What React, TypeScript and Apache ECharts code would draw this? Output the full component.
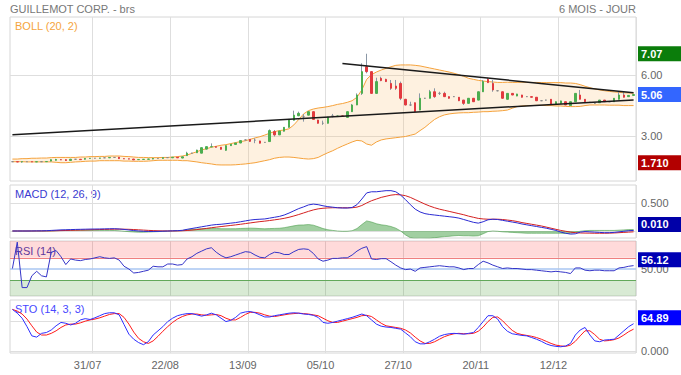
import { useEffect, useRef } from 'react';
import * as echarts from 'echarts';

// ---------- DATA ----------
// candles: [open, close, low, high]
const candles: number[][] = [
  [1.76,1.76,1.75,1.77],[1.76,1.75,1.74,1.77],[1.75,1.76,1.71,1.77],[1.76,1.76,1.75,1.77],[1.76,1.75,1.74,1.76],
  [1.75,1.76,1.75,1.77],[1.76,1.76,1.75,1.77],[1.76,1.77,1.75,1.78],[1.79,1.86,1.78,1.87],[1.83,1.87,1.82,1.90],
  [1.86,1.85,1.84,1.89],[1.86,1.82,1.80,1.87],[1.82,1.88,1.81,1.90],[1.88,1.88,1.86,1.89],[1.88,1.86,1.85,1.89],
  [1.88,1.92,1.87,1.93],[1.92,1.93,1.91,1.94],[1.93,1.93,1.92,1.94],[1.93,1.94,1.92,1.95],[1.95,1.95,1.94,1.96],
  [1.95,1.97,1.94,1.98],[1.97,1.97,1.96,1.98],[1.98,1.91,1.90,1.99],[1.91,1.90,1.89,1.92],[1.90,1.89,1.88,1.91],
  [1.89,1.85,1.84,1.90],[1.86,1.87,1.85,1.88],[1.87,1.88,1.86,1.89],[1.88,1.89,1.87,1.90],[1.89,1.92,1.88,1.93],
  [1.92,1.92,1.90,1.93],[1.92,1.96,1.91,1.97],[1.96,1.96,1.95,1.97],[1.95,1.98,1.94,1.99],[1.98,1.95,1.94,1.99],
  [1.94,2.00,1.93,2.01],[2.06,2.18,2.04,2.25],[2.18,2.18,2.16,2.20],[2.20,2.33,2.19,2.35],[2.18,2.45,2.17,2.46],
  [2.38,2.50,2.36,2.51],[2.49,2.50,2.47,2.66],[2.50,2.47,2.46,2.52],[2.47,2.37,2.36,2.48],[2.32,2.55,2.30,2.56],
  [2.55,2.62,2.54,2.63],[2.61,2.68,2.60,2.69],[2.68,2.80,2.67,2.81],[2.83,2.83,2.81,2.85],[2.86,2.76,2.74,2.87],
  [2.82,2.82,2.67,2.91],[2.78,2.67,2.66,2.79],[2.71,2.71,2.70,2.73],[2.75,3.29,2.74,3.35],[3.24,3.08,3.00,3.32],
  [3.08,3.27,3.07,3.28],[3.26,3.45,3.25,3.46],[3.45,3.84,3.44,3.85],[3.80,4.05,3.79,4.27],[4.02,4.14,4.00,4.22],
  [3.97,3.97,3.73,4.11],[4.05,4.22,4.04,4.23],[4.22,3.84,3.83,4.23],[3.81,3.65,3.64,3.82],[3.65,3.65,3.57,3.78],
  [3.65,3.95,3.64,3.97],[4.01,4.01,3.94,4.11],[3.98,4.01,3.97,4.03],[4.01,4.00,3.98,4.03],[3.94,4.22,3.93,4.23],
  [4.22,4.55,4.21,4.60],[4.55,5.04,4.54,5.12],[5.12,6.19,5.04,6.60],[6.43,6.19,6.11,7.07],[6.19,5.12,5.10,6.20],
  [5.12,5.70,5.10,5.89],[5.86,5.75,5.72,5.94],[5.81,5.70,5.68,5.84],[5.61,5.37,5.29,5.78],[5.48,5.37,5.29,5.78],
  [5.61,4.88,4.79,5.70],[4.83,4.55,4.53,4.85],[4.55,4.55,4.50,4.71],[4.66,4.22,4.20,4.67],[4.30,4.88,4.29,5.12],
  [4.88,4.88,4.85,4.90],[4.88,5.20,4.87,5.29],[5.20,4.96,4.90,5.37],[5.12,5.12,5.04,5.20],[5.12,4.96,4.94,5.20],
  [4.96,4.88,4.86,4.97],[4.96,4.96,4.94,4.98],[4.93,4.76,4.74,4.94],[4.79,4.63,4.55,4.80],[4.63,4.88,4.62,4.89],
  [4.88,4.71,4.70,4.89],[4.79,5.20,4.78,5.21],[5.20,5.70,5.19,5.78],[5.81,5.65,5.63,5.89],[5.61,5.29,5.20,5.78],
  [5.25,5.25,5.22,5.27],[5.20,4.88,4.86,5.21],[4.83,5.12,4.82,5.13],[5.12,5.04,5.03,5.13],[4.99,5.09,4.98,5.10],
  [5.04,4.93,4.92,5.05],[4.96,4.96,4.94,4.98],[4.96,4.93,4.92,4.97],[4.93,4.76,4.74,4.94],[4.76,4.76,4.74,4.78],
  [4.79,4.79,4.77,4.81],[4.83,4.60,4.59,4.84],[4.60,4.71,4.59,4.72],[4.63,4.75,4.62,4.76],[4.71,4.55,4.54,4.72],
  [4.52,4.71,4.51,4.72],[4.71,5.12,4.70,5.13],[5.04,4.83,4.82,5.29],[4.83,4.71,4.70,4.84],[4.68,4.68,4.66,4.70],
  [4.63,4.63,4.61,4.65],[4.66,4.79,4.65,4.80],[4.79,4.71,4.70,4.80],[4.71,4.71,4.69,4.73],[4.71,4.88,4.70,4.89],
  [4.83,5.04,4.82,5.20],[5.04,4.93,4.92,5.20],[4.96,5.02,4.95,5.04],[5.02,5.06,5.00,5.08],
];

const bollUpper: number[] = [
  1.89,1.89,1.91,1.91,1.93,1.93,1.94,1.94,1.96,1.97,
  1.97,1.97,1.97,1.97,1.99,1.99,2.01,2.01,2.02,2.02,
  2.04,2.04,2.04,2.02,2.01,1.99,1.97,1.97,1.96,1.96,
  1.96,1.97,1.97,1.99,2.01,2.04,2.09,2.17,2.25,2.34,
  2.40,2.47,2.52,2.57,2.60,2.65,2.70,2.75,2.79,2.86,
  2.93,2.99,3.07,3.16,3.24,3.29,3.32,3.38,3.57,3.84,
  4.11,4.27,4.35,4.40,4.43,4.47,4.52,4.58,4.62,4.68,
  4.76,4.93,5.29,5.81,6.04,6.17,6.27,6.35,6.43,6.50,
  6.52,6.52,6.52,6.50,6.47,6.42,6.37,6.32,6.27,6.22,
  6.17,6.11,6.04,5.96,5.86,5.81,5.76,5.73,5.70,5.68,
  5.66,5.66,5.67,5.66,5.66,5.67,5.66,5.66,5.66,5.65,
  5.65,5.65,5.65,5.65,5.63,5.63,5.61,5.55,5.47,5.40,
  5.34,5.29,5.25,5.22,5.19,5.17,5.15,5.14,5.13,
];
const bollLower: number[] = [
  1.76,1.76,1.76,1.75,1.75,1.75,1.75,1.75,1.75,1.73,
  1.71,1.71,1.73,1.75,1.76,1.78,1.79,1.79,1.81,1.81,
  1.81,1.81,1.81,1.79,1.79,1.78,1.78,1.78,1.79,1.81,
  1.83,1.83,1.83,1.83,1.83,1.81,1.81,1.78,1.75,1.71,
  1.68,1.65,1.61,1.60,1.60,1.60,1.61,1.63,1.65,1.68,
  1.71,1.76,1.81,1.86,1.93,1.97,1.99,1.99,1.97,1.94,
  1.91,1.89,1.91,1.97,2.09,2.20,2.30,2.42,2.53,2.63,
  2.73,2.81,2.78,2.63,2.57,2.73,2.83,2.88,2.91,2.94,
  2.97,3.00,3.06,3.12,3.29,3.45,3.65,3.84,3.97,4.06,
  4.11,4.14,4.16,4.17,4.17,4.19,4.20,4.22,4.22,4.24,
  4.25,4.27,4.30,4.39,4.47,4.50,4.52,4.52,4.53,4.53,
  4.52,4.52,4.50,4.50,4.48,4.47,4.47,4.48,4.52,4.55,
  4.55,4.55,4.55,4.54,4.54,4.54,4.52,4.52,4.52,
];

const macdLine: number[] = [
  0,0,0,0,0.001,0.002,0.003,0.005,0.010,0.015,
  0.020,0.022,0.025,0.028,0.030,0.032,0.034,0.035,0.036,0.038,
  0.040,0.041,0.036,0.028,0.018,0.008,0.000,-0.005,-0.008,-0.008,
  -0.007,-0.004,-0.001,0.003,0.006,0.012,0.030,0.045,0.060,0.075,
  0.090,0.105,0.115,0.120,0.130,0.140,0.150,0.165,0.180,0.195,
  0.205,0.210,0.215,0.230,0.245,0.260,0.285,0.320,0.360,0.400,
  0.430,0.465,0.480,0.470,0.450,0.435,0.425,0.415,0.410,0.410,
  0.420,0.470,0.570,0.680,0.700,0.700,0.710,0.720,0.720,0.700,
  0.640,0.560,0.470,0.390,0.340,0.310,0.295,0.285,0.275,0.265,
  0.255,0.245,0.230,0.205,0.180,0.155,0.140,0.165,0.200,0.210,
  0.205,0.190,0.175,0.160,0.145,0.125,0.110,0.095,0.080,0.065,
  0.050,0.030,0.010,-0.020,-0.040,-0.055,-0.050,-0.020,-0.010,-0.015,
  -0.020,-0.025,-0.030,-0.030,-0.025,-0.015,-0.005,0.005,0.010,
];
const macdSignal: number[] = [
  0,0,0,0,0,0.001,0.001,0.002,0.003,0.005,
  0.007,0.009,0.012,0.014,0.017,0.019,0.022,0.024,0.026,0.028,
  0.030,0.032,0.033,0.032,0.030,0.026,0.021,0.016,0.011,0.007,
  0.004,0.002,0.001,0.001,0.002,0.004,0.009,0.016,0.025,0.035,
  0.046,0.058,0.069,0.079,0.089,0.099,0.109,0.120,0.132,0.144,
  0.156,0.167,0.176,0.187,0.199,0.211,0.226,0.245,0.268,0.294,
  0.322,0.350,0.376,0.395,0.406,0.412,0.415,0.415,0.415,0.414,
  0.415,0.426,0.455,0.500,0.540,0.570,0.600,0.620,0.640,0.650,
  0.645,0.630,0.600,0.560,0.520,0.480,0.445,0.415,0.390,0.370,
  0.350,0.330,0.310,0.290,0.265,0.245,0.225,0.215,0.210,0.210,
  0.210,0.205,0.195,0.185,0.170,0.150,0.135,0.120,0.105,0.090,
  0.070,0.050,0.030,0.010,-0.005,-0.020,-0.030,-0.035,-0.037,-0.038,
  -0.040,-0.040,-0.040,-0.038,-0.035,-0.030,-0.025,-0.020,-0.015,
];
const macdHist: number[] = [
  0,0,0,0,0,0,0,0,0,0.005,
  0.010,0.012,0.013,0.014,0.013,0.013,0.012,0.011,0.010,0.010,
  0.010,0.009,0.003,-0.004,-0.012,-0.018,-0.021,-0.021,-0.019,-0.015,
  -0.011,-0.006,-0.002,0.002,0.004,0.008,0.021,0.029,0.035,0.040,
  0.044,0.047,0.046,0.041,0.041,0.041,0.041,0.045,0.048,0.051,
  0.049,0.043,0.039,0.043,0.046,0.049,0.059,0.075,0.092,0.106,
  0.108,0.115,0.104,0.075,0.044,0.023,0.010,0.000,-0.005,-0.004,
  0.005,0.044,0.115,0.180,0.160,0.130,0.110,0.100,0.080,0.050,
  0.000,-0.070,-0.120,-0.140,-0.150,-0.145,-0.135,-0.120,-0.110,-0.100,
  -0.095,-0.085,-0.080,-0.085,-0.085,-0.090,-0.085,-0.050,-0.010,0.000,
  -0.005,-0.015,-0.020,-0.025,-0.030,-0.035,-0.040,-0.040,-0.040,-0.040,
  -0.040,-0.040,-0.040,-0.040,-0.045,-0.040,-0.025,-0.005,0.005,0.010,
  0.010,0.010,0.010,0.010,0.010,0.015,0.020,0.025,0.025,
];

const rsiLine: number[] = [
  51,98,17,17,38,46,38,36,80,83,
  72,58,68,66,65,67,68,70,72,70,
  69,70,66,55,50,43,44,46,48,55,
  54,54,59,59,57,58,68,72,78,82,
  86,88,80,74,70,72,75,78,81,80,
  75,71,70,76,80,79,76,76,81,85,
  86,85,78,68,64,66,69,69,70,70,
  75,82,87,90,68,67,68.5,68.5,63,57,
  52,49,50,46,52,53,54,55,56,55,
  54,54,52,49,51,51,58,64,61,57,
  54,51,52,51,51,50,49,49,48,47,
  46,45,46,45,44,42,52,52,48,47,
  48,48,47,47,47,52,53,55,56.12,
];

const stoK: number[] = [
  99,90,78,58,36,33,42,44,50,60,
  68,66,62,66,74,77,75,79,84,89,
  91,91,86,63,40,28,20,15,22,38,
  48,58,70,78,84,87,89,89,86,83,
  86,90,86,78,70,73,80,90,93,94,
  91,86,81,81,84,86,88,90,91,90,
  88,87,85,80,68,66,68,71,74,77,
  80,84,88,84,74,64,59,57,56,54,
  52,43,34,22,17,17,22,28,35,39,
  41,42,41,40,42,44,56,70,84,84,
  76,58,47,41,39,37,36,32,28,23,
  17,13,11,10,12,18,38,50,56,38,
  24,22,26,27,28,38,48,58,64.89,
];
const stoD: number[] = [
  99,95,88,76,60,45,38,38,42,48,
  56,62,64,64,67,71,74,76,79,83,
  87,89,89,80,64,45,30,22,18,24,
  35,47,58,68,76,82,86,88,88,86,
  85,86,87,84,78,74,74,80,87,92,
  92,90,86,83,82,84,86,88,89,90,
  89,88,86,84,78,72,68,68,71,74,
  77,80,84,85,82,74,66,60,58,56,
  54,50,43,33,24,18,18,22,28,34,
  38,41,42,41,41,42,47,57,70,80,
  81,72,60,49,42,39,37,35,32,28,
  23,18,14,12,11,14,23,36,48,48,
  39,28,24,25,27,31,38,46,52,
];

const xTickIndex = [16, 32, 48, 64, 80, 96, 112];
const xTickLabels = ['31/07', '22/08', '13/09', '05/10', '27/10', '20/11', '12/12'];

const priceTicks = [3, 6];
const macdTicks = [0, 0.5];
const macdTickLabels = [0.5];
const rsiTickLabels = [50];
const rsiLevels = [70, 50, 30];
const stoTicks = [0, 70];
const stoTickLabels = [0];

// trend lines: [index, price]
const lowerTrend: [number, number][] = [[0, 3.08], [128, 4.80]];
const upperTrend: [number, number][] = [[68, 6.59], [128, 5.15]];

// ---------- OPTION ----------
const FONT = '"Liberation Sans", Arial, Helvetica, sans-serif';
const GRID_LINE = '#dedede';
const categories = candles.map((_, i) => String(i));
const last = (a: number[]) => a[a.length - 1];

function valueBox(value: number, text: string, bg: string, dy: number, z: number) {
  return {
    silent: true,
    symbol: ['none', 'none'],
    animation: false,
    z,
    lineStyle: { width: 0, color: bg, opacity: 0 },
    label: {
      show: true,
      position: 'end',
      distance: 2,
      formatter: text,
      color: '#fff',
      opacity: 1,
      fontSize: 11,
      fontWeight: 'bold',
      fontFamily: FONT,
      backgroundColor: bg,
      padding: [2, 24, 1, 3],
      lineHeight: 12,
      offset: [0, dy],
    },
    data: [{ yAxis: value }],
  };
}

// a plain coloured strip under an oscillator box (signal line value), no text
function signalStrip(value: number, bg: string, dy: number, z: number) {
  return {
    silent: true,
    symbol: ['none', 'none'],
    animation: false,
    z,
    lineStyle: { width: 0, color: bg, opacity: 0 },
    label: {
      show: true,
      position: 'end',
      distance: 2,
      formatter: ' ',
      width: 60,
      height: 12,
      lineHeight: 12,
      fontSize: 11,
      backgroundColor: bg,
      padding: [2, 0, 1, 0],
      offset: [0, dy],
    },
    data: [{ yAxis: value }],
  };
}

function buildOption() {
  const highs = candles.map((c) => c[3]);
  const lows = candles.map((c) => c[2]);
  const hi = Math.max(...highs);
  const lo = Math.min(...lows);
  const lastClose = last(candles)[1];

  const grids = [
    { top: 17, height: 164 },
    { top: 185, height: 53 },
    { top: 241, height: 55 },
    { top: 300, height: 53 },
  ].map((g) => ({
    ...g,
    left: 10,
    right: 45,
    show: true,
    borderColor: '#d6d6d6',
    borderWidth: 1,
    backgroundColor: 'transparent',
  }));

  const xAxes = grids.map((_, gi) => ({
    type: 'category',
    gridIndex: gi,
    data: categories,
    boundaryGap: true,
    axisLine: { show: false },
    axisTick: { show: false },
    axisLabel: {
      show: gi === 3,
      interval: (idx: number) => xTickIndex.includes(idx),
      formatter: (_v: string, idx: number) => {
        const k = xTickIndex.indexOf(idx);
        return k >= 0 ? xTickLabels[k] : '';
      },
      color: '#666',
      fontSize: 11,
      fontFamily: FONT,
      margin: 6,
      padding: [0, 5, 0, 0],
    },
    splitLine: {
      show: true,
      interval: (idx: number) => xTickIndex.includes(idx - 1),
      lineStyle: { color: GRID_LINE, width: 1 },
    },
  }));

  const yAxis = (gi: number, min: number, max: number, ticks: number[], labels: number[], digits: number, split: boolean) => ({
    type: 'value',
    gridIndex: gi,
    position: 'right',
    min,
    max,
    axisLine: { show: false },
    axisTick: { show: false, customValues: ticks },
    axisLabel: {
      customValues: labels,
      formatter: (v: number) => v.toFixed(digits),
      color: '#666',
      fontSize: 11,
      fontFamily: FONT,
      margin: 5,
    },
    splitLine: { show: split, lineStyle: { color: GRID_LINE, width: 1 } },
  });

  const yAxes = [
    yAxis(0, 0.811, 8.877, priceTicks, priceTicks, 2, true),
    yAxis(1, -0.125, 0.821, macdTicks, macdTickLabels, 3, true),
    yAxis(2, 2, 100, rsiTickLabels, rsiTickLabels, 2, false),
    yAxis(3, -4.8, 121.4, stoTicks, stoTickLabels, 3, true),
  ];

  const orange = '#f5a23c';
  const series: any[] = [
    {
      type: 'line', xAxisIndex: 0, yAxisIndex: 0, data: bollLower, stack: 'boll',
      symbol: 'none', lineStyle: { color: orange, width: 1 }, z: 1, silent: true,
    },
    {
      type: 'line', xAxisIndex: 0, yAxisIndex: 0,
      data: bollUpper.map((u, i) => +(u - bollLower[i]).toFixed(4)), stack: 'boll',
      symbol: 'none', lineStyle: { color: orange, width: 1 },
      areaStyle: { color: 'rgba(250,190,110,0.3)' }, z: 1, silent: true,
    },
    {
      // wicks
      type: 'candlestick', xAxisIndex: 0, yAxisIndex: 0, data: candles, barWidth: 0.01, silent: true,
      itemStyle: {
        color: '#8a97a6', color0: '#8a97a6', borderColor: '#8a97a6', borderColor0: '#8a97a6',
        borderColorDoji: '#8a97a6', borderWidth: 1,
      },
      markLine: {
        silent: true, symbol: ['none', 'none'], animation: false, z: 6,
        lineStyle: { color: '#1a1a1a', width: 1.5, type: 'solid' },
        label: { show: false },
        data: [
          [{ coord: [String(lowerTrend[0][0]), lowerTrend[0][1]] }, { coord: [String(lowerTrend[1][0]), lowerTrend[1][1]] }],
          [{ coord: [String(upperTrend[0][0]), upperTrend[0][1]] }, { coord: [String(upperTrend[1][0]), upperTrend[1][1]] }],
        ],
      },
    },
    {
      // bodies
      type: 'candlestick', xAxisIndex: 0, yAxisIndex: 0, silent: true,
      data: candles.map(([o, c]) => [o, c, Math.min(o, c), Math.max(o, c)]),
      barWidth: 2,
      itemStyle: {
        color: '#4cae50', color0: '#e23a3f', borderColor: '#4cae50', borderColor0: '#e23a3f',
        borderColorDoji: '#8a8a8a', borderWidth: 1,
      },
    },
    {
      type: 'line', xAxisIndex: 0, yAxisIndex: 0, data: [], silent: true,
      markLine: valueBox(hi, hi.toFixed(2), '#0b7d0b', 0, 7),
    },
    {
      type: 'line', xAxisIndex: 0, yAxisIndex: 0, data: [], silent: true,
      markLine: valueBox(lastClose, lastClose.toFixed(2), '#3366ff', 0, 7),
    },
    {
      type: 'line', xAxisIndex: 0, yAxisIndex: 0, data: [], silent: true,
      markLine: valueBox(lo, lo.toFixed(3), '#b30000', 0, 7),
    },
    // MACD
    {
      type: 'line', xAxisIndex: 1, yAxisIndex: 1, data: macdHist, symbol: 'none', silent: true,
      lineStyle: { color: '#4f9f4f', width: 0.6 }, areaStyle: { color: 'rgba(70,160,70,0.72)' }, z: 1,
    },
    {
      type: 'line', xAxisIndex: 1, yAxisIndex: 1, data: macdSignal, symbol: 'none', silent: true,
      lineStyle: { color: '#d42020', width: 1 },
      markLine: signalStrip(last(macdSignal), '#cc0000', -4.5, 6),
    },
    {
      type: 'line', xAxisIndex: 1, yAxisIndex: 1, data: macdLine, symbol: 'none', silent: true,
      lineStyle: { color: '#2a2ad2', width: 1 },
      markLine: valueBox(last(macdLine), last(macdLine).toFixed(3), '#0000a8', -6, 7),
    },
    // RSI
    {
      type: 'line', xAxisIndex: 2, yAxisIndex: 2, data: rsiLine, symbol: 'none', silent: true,
      lineStyle: { color: '#3535c8', width: 1 }, z: 3,
      markArea: {
        silent: true,
        data: [
          [{ yAxis: rsiLevels[0], itemStyle: { color: 'rgba(255,0,0,0.145)' } }, { yAxis: 100 }],
          [{ yAxis: 2, itemStyle: { color: 'rgba(60,150,40,0.2)' } }, { yAxis: rsiLevels[2] }],
        ],
      },
      markLine: {
        silent: true, symbol: ['none', 'none'], animation: false, z: 2,
        label: { show: false },
        data: [
          { yAxis: rsiLevels[0], lineStyle: { color: '#ef8080', width: 1, type: 'solid' } },
          { yAxis: rsiLevels[1], lineStyle: { color: '#a9c6f2', width: 1.5, type: 'solid' } },
          { yAxis: rsiLevels[2], lineStyle: { color: '#62a85a', width: 1, type: 'solid' } },
        ],
      },
    },
    {
      type: 'line', xAxisIndex: 2, yAxisIndex: 2, data: [], silent: true,
      markLine: valueBox(last(rsiLine), last(rsiLine).toFixed(2), '#0000b4', -6, 7),
    },
    // STO
    {
      type: 'line', xAxisIndex: 3, yAxisIndex: 3, data: stoD, symbol: 'none', silent: true,
      lineStyle: { color: '#ff1a1a', width: 1 },
      markLine: signalStrip(last(stoD), '#ff0000', -6, 6),
    },
    {
      type: 'line', xAxisIndex: 3, yAxisIndex: 3, data: stoK, symbol: 'none', silent: true,
      lineStyle: { color: '#2f2fff', width: 1 },
      markLine: valueBox(last(stoK), last(stoK).toFixed(2), '#0000ff', -6, 7),
    },
  ];

  const legendText = (text: string, x: number, y: number, fill: string) => ({
    type: 'text', x, y, z: 0, silent: true,
    style: { text, fill, font: `11px ${FONT}`, verticalAlign: 'middle', textVerticalAlign: 'middle' },
  });

  return {
    animation: false,
    backgroundColor: '#ffffff',
    textStyle: { fontFamily: FONT },
    grid: grids,
    xAxis: xAxes,
    yAxis: yAxes,
    series,
    graphic: [
      legendText('GUILLEMOT CORP. - brs', 10, 9, '#777777'),
      {
        type: 'text', x: 636, y: 9, silent: true,
        style: { text: '6 MOIS - JOUR', fill: '#777777', font: `11px ${FONT}`, align: 'right', textAlign: 'right', verticalAlign: 'middle', textVerticalAlign: 'middle' },
      },
      legendText('BOLL (20, 2)', 15, 26, '#f5a43c'),
      legendText('MACD (12, 26, 9)', 15, 194, '#3a3ad0'),
      legendText('RSI (14)', 15, 251, '#4545b8'),
      legendText('STO (14, 3, 3)', 15, 309, '#4848ff'),
    ],
  };
}

export default function App() {
  const ref = useRef<HTMLDivElement>(null);
  useEffect(() => {
    if (!ref.current) return;
    const chart = echarts.init(ref.current, undefined, { renderer: 'svg' });
    chart.setOption(buildOption() as any);
    return () => chart.dispose();
  }, []);
  return (
    <div
      ref={ref}
      style={{ position: 'fixed', left: 0, top: 0, width: 681, height: 375, background: '#fff' }}
    />
  );
}
